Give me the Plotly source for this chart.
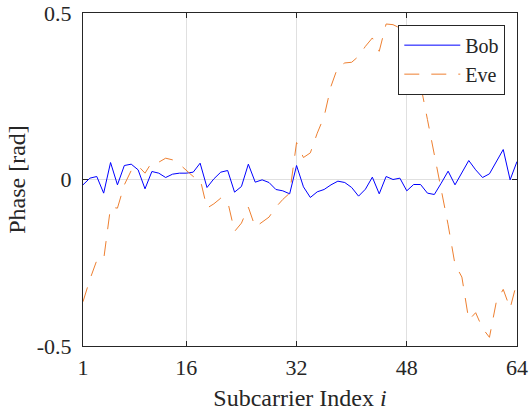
import plotly.graph_objects as go

subcarrier = list(range(1, 65))

bob = [-0.016, 0.004, 0.009, -0.041, 0.051, -0.016, 0.042, 0.046, 0.029, -0.028,
       0.024, 0.019, 0.006, 0.016, 0.019, 0.019, 0.022, 0.049, -0.024, 0.002,
       0.022, 0.027, -0.038, -0.021, 0.046, -0.008, -0.001, -0.009, -0.030, -0.034,
       -0.043, 0.042, -0.022, -0.054, -0.037, -0.030, -0.016, -0.005, -0.009, -0.024,
       -0.050, -0.029, 0.007, -0.043, 0.009, 0.000, 0.004, -0.034, -0.015, -0.015,
       -0.041, -0.045, -0.011, 0.025, -0.016, 0.020, 0.057, 0.029, 0.006, 0.017,
       0.055, 0.090, -0.001, 0.054]

eve = [-0.367, -0.300, -0.243, -0.240, -0.083, -0.086, -0.016, 0.027, 0.041, 0.019,
       0.052, 0.052, 0.064, 0.059, 0.046, 0.026, 0.009, 0.002, -0.086, -0.073,
       -0.056, -0.066, -0.156, -0.131, -0.083, -0.143, -0.129, -0.113, -0.083, -0.060,
       -0.041, 0.111, 0.066, 0.080, 0.139, 0.189, 0.280, 0.338, 0.350, 0.352,
       0.370, 0.400, 0.425, 0.385, 0.467, 0.465, 0.455, 0.430, 0.360, 0.285,
       0.180, 0.075, -0.031, -0.136, -0.255, -0.293, -0.422, -0.400, -0.447, -0.474,
       -0.367, -0.330, -0.387, -0.307]

x_ticks = [1, 16, 32, 48, 64]
y_ticks = [-0.5, 0, 0.5]
y_tick_labels = ["-0.5", "0", "0.5"]

FONT = "Liberation Serif"
AX = "#262626"

fig = go.Figure()
fig.add_trace(go.Scatter(x=subcarrier, y=bob, mode="lines", name="Bob",
                         line=dict(color="#0000FF", width=1)))
fig.add_trace(go.Scatter(x=subcarrier, y=eve, mode="lines", name="Eve",
                         line=dict(color="#EE7F30", width=1, dash="15px,12px")))

axis_common = dict(showline=True, linecolor=AX, linewidth=1, mirror="ticks",
                   ticks="inside", ticklen=5, tickcolor=AX, showgrid=True,
                   gridcolor="#E0E0E0", gridwidth=1, zeroline=False,
                   automargin=False,
                   tickfont=dict(family=FONT, size=22, color=AX))

fig.update_xaxes(range=[1, 64], tickvals=x_ticks, ticktext=[str(v) for v in x_ticks],
                 ticklabelstandoff=2,
                 title=dict(text="Subcarrier Index <i>i</i>", standoff=11,
                            font=dict(family=FONT, size=24, color=AX)),
                 **axis_common)
fig.update_yaxes(range=[-0.5, 0.5], tickvals=y_ticks, ticktext=y_tick_labels,
                 ticklabelstandoff=6,
                 title=dict(text="Phase [rad]", standoff=4,
                            font=dict(family=FONT, size=24, color=AX)),
                 **axis_common)

fig.update_layout(
    width=529, height=411,
    margin=dict(l=83, r=12, t=13, b=65),
    plot_bgcolor="white", paper_bgcolor="white",
    font=dict(family=FONT, size=20, color=AX),
    legend=dict(x=0.973, y=0.965, xanchor="right", yanchor="top",
                bgcolor="white", bordercolor=AX, borderwidth=1,
                font=dict(family=FONT, size=20, color=AX), itemwidth=56,
                tracegroupgap=0),
    showlegend=True,
)

fig.write_html("out.html")
